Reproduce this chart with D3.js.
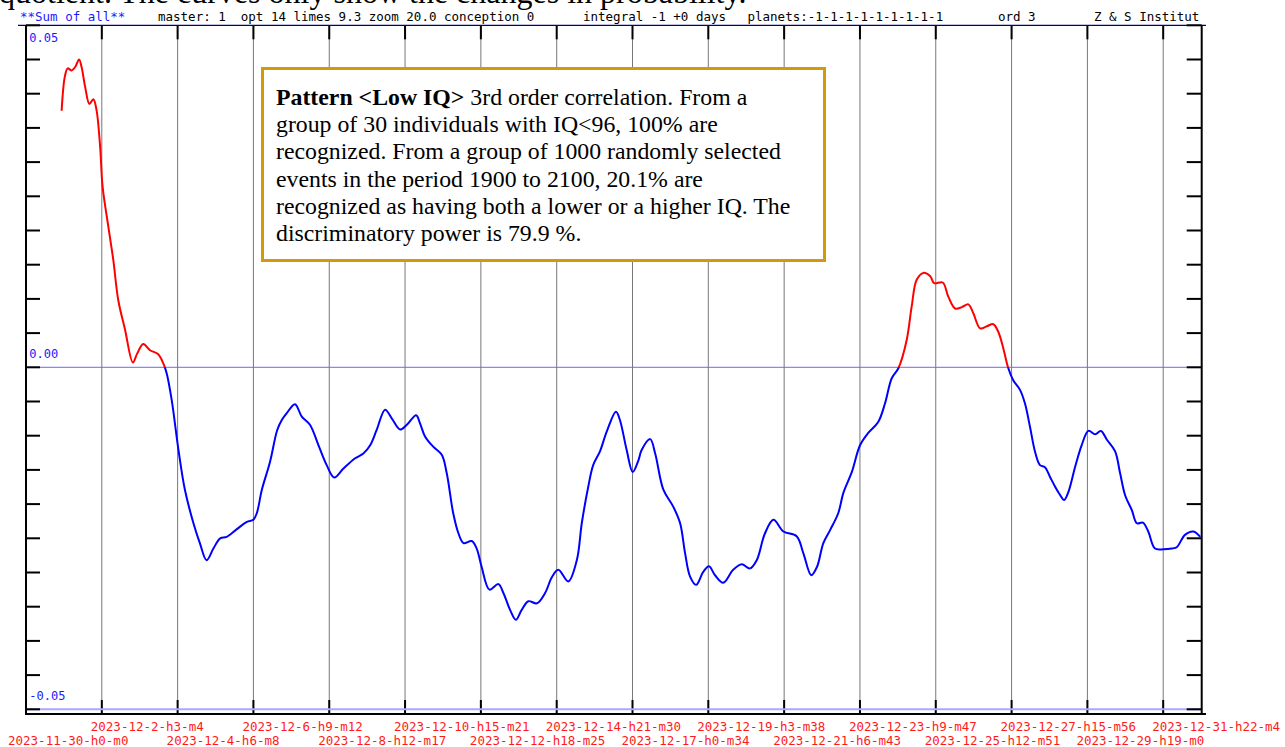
<!DOCTYPE html>
<html>
<head>
<meta charset="utf-8">
<script src="https://cdn.jsdelivr.net/npm/d3@7"></script>
<style>
  body { margin: 0; background: white; }
  text { white-space: pre; }
</style>
</head>
<body>
<div id="viz"></div>
<script>
// days since 2023-11-30 00:00 and summed correlation value
var seriesDays = [1.00,1.09,1.17,1.28,1.38,1.49,1.56,1.66,1.78,1.89,
  1.98,2.08,2.15,2.31,2.45,2.59,2.78,3.00,3.12,3.29,
  3.48,3.71,3.85,3.95,4.09,4.28,4.46,4.70,4.88,5.07,
  5.26,5.45,5.63,5.91,6.20,6.38,6.48,6.62,6.85,7.05,
  7.18,7.32,7.55,7.74,7.97,8.21,8.44,8.65,8.91,9.24,
  9.47,9.66,9.84,10.08,10.27,10.50,10.69,10.95,11.06,11.20,
  11.43,11.67,11.81,11.99,12.14,12.28,12.51,12.65,12.79,13.01,
  13.26,13.40,13.59,13.75,13.91,14.10,14.34,14.57,14.76,14.94,
  15.22,15.46,15.60,15.78,15.92,16.11,16.30,16.56,16.67,16.86,
  17.03,17.19,17.28,17.52,17.66,17.89,18.17,18.36,18.50,18.64,
  18.81,19.01,19.17,19.34,19.57,19.85,20.09,20.32,20.51,20.74,
  20.98,21.26,21.63,21.82,22.04,22.20,22.38,22.57,22.80,22.94,
  23.18,23.41,23.64,23.92,24.11,24.30,24.49,24.72,24.86,25.00,
  25.19,25.38,25.49,25.73,25.89,26.08,26.27,26.45,26.59,26.78,
  26.97,27.15,27.29,27.43,27.57,27.71,27.90,28.04,28.18,28.32,
  28.46,28.60,28.74,28.89,29.03,29.14,29.26,29.45,29.63,29.82,
  30.01,30.17,30.34,30.57,30.71,30.85,31.04,31.18,31.35,31.50,
  31.69,31.93,32.16,32.30,32.53,32.77,32.96];
var seriesValues = [0.0375,0.0425,0.0437,0.0434,0.0439,0.0450,0.0439,0.0410,0.0385,0.0392,
  0.0376,0.0323,0.0264,0.0206,0.0157,0.0098,0.0055,0.0007,0.0020,0.0034,
  0.0025,0.0019,0.0006,-0.0009,-0.0048,-0.0121,-0.0179,-0.0228,-0.0257,-0.0282,
  -0.0265,-0.0250,-0.0248,-0.0237,-0.0226,-0.0223,-0.0213,-0.0179,-0.0138,-0.0092,
  -0.0077,-0.0067,-0.0054,-0.0072,-0.0084,-0.0114,-0.0143,-0.0161,-0.0148,-0.0133,
  -0.0126,-0.0114,-0.0092,-0.0062,-0.0075,-0.0091,-0.0084,-0.0070,-0.0082,-0.0101,
  -0.0116,-0.0128,-0.0155,-0.0213,-0.0243,-0.0257,-0.0254,-0.0265,-0.0292,-0.0325,
  -0.0317,-0.0330,-0.0355,-0.0369,-0.0355,-0.0342,-0.0345,-0.0330,-0.0307,-0.0296,
  -0.0313,-0.0282,-0.0228,-0.0175,-0.0143,-0.0123,-0.0094,-0.0065,-0.0077,-0.0121,
  -0.0153,-0.0136,-0.0121,-0.0105,-0.0126,-0.0179,-0.0204,-0.0228,-0.0272,-0.0306,
  -0.0318,-0.0299,-0.0291,-0.0304,-0.0315,-0.0296,-0.0288,-0.0294,-0.0282,-0.0243,
  -0.0223,-0.0240,-0.0247,-0.0272,-0.0304,-0.0292,-0.0257,-0.0238,-0.0213,-0.0184,
  -0.0153,-0.0114,-0.0096,-0.0080,-0.0053,-0.0016,-0.0001,0.0040,0.0089,0.0128,
  0.0138,0.0133,0.0123,0.0124,0.0103,0.0086,0.0088,0.0092,0.0079,0.0057,
  0.0060,0.0063,0.0052,0.0028,-0.0001,-0.0019,-0.0033,-0.0053,-0.0087,-0.0123,
  -0.0143,-0.0146,-0.0160,-0.0175,-0.0187,-0.0194,-0.0182,-0.0145,-0.0114,-0.0093,
  -0.0098,-0.0093,-0.0106,-0.0123,-0.0155,-0.0187,-0.0209,-0.0228,-0.0227,-0.0240,
  -0.0265,-0.0266,-0.0265,-0.0263,-0.0245,-0.0240,-0.0248];

var xTickLabels = ["2023-11-30-h0-m0","2023-12-2-h3-m4","2023-12-4-h6-m8","2023-12-6-h9-m12",
  "2023-12-8-h12-m17","2023-12-10-h15-m21","2023-12-12-h18-m25","2023-12-14-h21-m30",
  "2023-12-17-h0-m34","2023-12-19-h3-m38","2023-12-21-h6-m43","2023-12-23-h9-m47",
  "2023-12-25-h12-m51","2023-12-27-h15-m56","2023-12-29-h19-m0","2023-12-31-h22-m4"];
var yLabelValues = [0.05, 0.00, -0.05];
var yLabels = ["0.05", "0.00", "-0.05"];

var headerTexts = ["**Sum of all**", "master: 1  opt 14 limes 9.3 zoom 20.0 conception 0",
  "integral -1 +0 days", "planets:-1-1-1-1-1-1-1-1-1", "ord 3", "Z & S Institut"];
var headerX = [20, 158, 583, 747.5, 998, 1094];

var topNote = "quotient. The curves only show the changes in probability.";
var boxBold = "Pattern <Low IQ>";
var boxLines = [" 3rd order correlation. From a",
  "group of 30 individuals with IQ<96, 100% are",
  "recognized. From a group of 1000 randomly selected",
  "events in the period 1900 to 2100, 20.1% are",
  "recognized as having both a lower or a higher IQ. The",
  "discriminatory power is 79.9 %."];

var W = 1285, H = 747;
var plotL = 26, plotR = 1201.7, plotT = 25.3, plotB = 714;
var mono = "'DejaVu Sans Mono', 'Liberation Mono', monospace";
var serif = "'Liberation Serif', 'Times New Roman', serif";

function parseLabel(s) {
  var p = s.split("-");
  return new Date(Date.UTC(+p[0], +p[1] - 1, +p[2], +p[3].slice(1), +p[4].slice(1)));
}
var start = parseLabel(xTickLabels[0]);
var end = new Date(start.getTime() + 33 * 864e5);

var x = d3.scaleUtc().domain([start, end]).range([plotL, plotR]);
var y = d3.scaleLinear().domain([-0.05, 0.05]).range([709.3, plotT]);

var data = seriesDays.map(function(d, i) {
  return { t: new Date(start.getTime() + d * 864e5), v: seriesValues[i] };
});

var svg = d3.select("#viz").append("svg")
  .attr("width", W).attr("height", H);

svg.append("text")
  .attr("x", -1).attr("y", 3)
  .attr("font-family", serif).attr("font-size", "32px")
  .attr("fill", "black")
  .text(topNote);

headerTexts.forEach(function(t, i) {
  svg.append("text")
    .attr("x", headerX[i]).attr("y", 21)
    .attr("font-family", mono).attr("font-size", "12.5px")
    .attr("fill", i == 0 ? "#1a1aff" : "black")
    .text(t);
});

// top rule
svg.append("line")
  .attr("x1", 18).attr("x2", 1206).attr("y1", plotT).attr("y2", plotT)
  .style("stroke", "#000080").style("stroke-width", 1.3);

var tickDates = xTickLabels.map(parseLabel);

// vertical grid
var g = svg.append("g");
tickDates.slice(1).forEach(function(d) {
  var xx = x(d);
  g.append("line").attr("x1", xx).attr("x2", xx).attr("y1", plotT).attr("y2", plotB)
    .style("stroke", "#777").style("stroke-width", 1);
  g.append("line").attr("x1", xx).attr("x2", xx).attr("y1", plotT).attr("y2", plotT + 14)
    .style("stroke", "black").style("stroke-width", 2);
  g.append("line").attr("x1", xx).attr("x2", xx).attr("y1", plotB - 14).attr("y2", plotB)
    .style("stroke", "black").style("stroke-width", 2);
});

// zero and bottom reference lines
g.append("line").attr("x1", plotL).attr("x2", plotR).attr("y1", y(0)).attr("y2", y(0))
  .style("stroke", "#6a6aff").style("stroke-width", 1);
g.append("line").attr("x1", plotL).attr("x2", plotR).attr("y1", y(-0.05)).attr("y2", y(-0.05))
  .style("stroke", "#a8a8ff").style("stroke-width", 2);

// y ticks on both sides
var yTicks = d3.range(-10, 11).map(function(k) { return k * 0.005; });
yTicks.forEach(function(v) {
  g.append("line").attr("x1", plotL).attr("x2", plotL + 14).attr("y1", y(v)).attr("y2", y(v))
    .style("stroke", "black").style("stroke-width", 2);
  g.append("line").attr("x1", plotR - 15).attr("x2", plotR).attr("y1", y(v)).attr("y2", y(v))
    .style("stroke", "black").style("stroke-width", 2);
});

// frame
g.append("line").attr("x1", plotL).attr("x2", plotL).attr("y1", plotT).attr("y2", plotB + 1)
  .style("stroke", "black").style("stroke-width", 2);
g.append("line").attr("x1", plotR).attr("x2", plotR).attr("y1", plotT).attr("y2", plotB + 1)
  .style("stroke", "black").style("stroke-width", 2);
g.append("line").attr("x1", plotL).attr("x2", 1206).attr("y1", plotB).attr("y2", plotB)
  .style("stroke", "black").style("stroke-width", 2);

yLabelValues.forEach(function(v, i) {
  svg.append("text")
    .attr("x", 29.3).attr("y", v > 0.04 ? y(v) + 16.2 : y(v) - 9.5)
    .attr("font-family", mono).attr("font-size", "12px")
    .attr("fill", "#1a1aff")
    .text(yLabels[i]);
});

// x labels in two staggered rows
tickDates.forEach(function(d, i) {
  svg.append("text")
    .attr("x", x(d) - (i == 0 ? 18 : 11))
    .attr("y", i % 2 == 0 ? 745 : 731)
    .attr("font-family", mono).attr("font-size", "12.5px")
    .attr("fill", "#ff1a1a")
    .text(xTickLabels[i]);
});

// curve: red above zero, blue below
var defs = svg.append("defs");
defs.append("clipPath").attr("id", "above").append("rect")
  .attr("x", plotL).attr("y", plotT).attr("width", plotR - plotL).attr("height", y(0) - plotT);
defs.append("clipPath").attr("id", "below").append("rect")
  .attr("x", plotL).attr("y", y(0)).attr("width", plotR - plotL).attr("height", plotB - y(0));

var line = d3.line()
  .x(function(d) { return x(d.t); })
  .y(function(d) { return y(d.v); })
  .curve(d3.curveCatmullRom);

svg.append("path").datum(data).attr("d", line)
  .attr("clip-path", "url(#above)")
  .style("fill", "none").style("stroke", "#ff0000").style("stroke-width", 2);
svg.append("path").datum(data).attr("d", line)
  .attr("clip-path", "url(#below)")
  .style("fill", "none").style("stroke", "#0000ff").style("stroke-width", 2);

// pattern note box
svg.append("rect")
  .attr("x", 262.5).attr("y", 68.5).attr("width", 562).attr("height", 192)
  .style("fill", "white").style("stroke", "#d09a0a").style("stroke-width", 3);

var note = svg.append("text")
  .attr("font-family", serif).attr("font-size", "23.8px").attr("fill", "black");
boxLines.forEach(function(l, i) {
  var ts = note.append("tspan").attr("x", 276).attr("y", 105 + i * 27.2);
  if (i == 0) {
    ts.append("tspan").attr("font-weight", "bold").text(boxBold);
    note.append("tspan").text(l);
  } else {
    ts.text(l);
  }
});
</script>
</body>
</html>
